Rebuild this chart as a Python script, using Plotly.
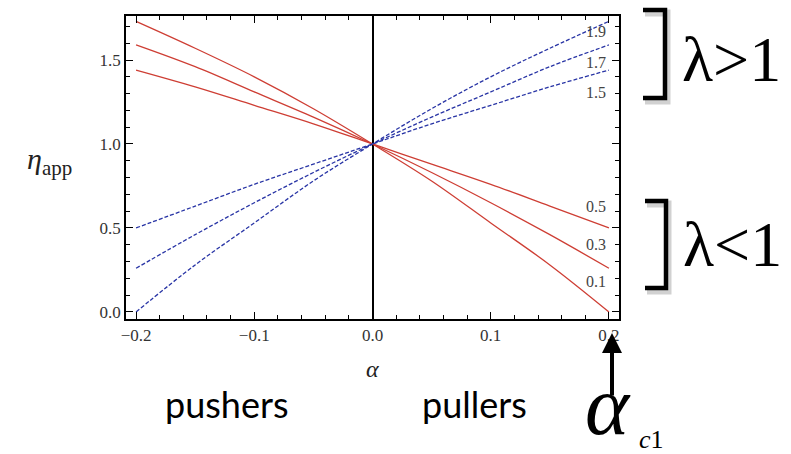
import plotly.graph_objects as go

# Apparent viscosity vs. swimmer stress parameter alpha
alpha = [-0.2, -0.15, -0.1, -0.05, 0.0, 0.05, 0.1, 0.15, 0.2]

# lambda < 1 (solid red)
eta_lam_01 = [1.73, 1.57, 1.40, 1.21, 1.00, 0.78, 0.53, 0.28, 0.00]
eta_lam_03 = [1.59, 1.46, 1.31, 1.16, 1.00, 0.83, 0.65, 0.46, 0.26]
eta_lam_05 = [1.44, 1.34, 1.23, 1.12, 1.00, 0.88, 0.76, 0.63, 0.50]

# lambda > 1 (dashed blue)
eta_lam_19 = [0.00, 0.28, 0.53, 0.78, 1.00, 1.21, 1.40, 1.57, 1.73]
eta_lam_17 = [0.26, 0.46, 0.65, 0.83, 1.00, 1.16, 1.31, 1.46, 1.59]
eta_lam_15 = [0.50, 0.63, 0.76, 0.88, 1.00, 1.12, 1.23, 1.34, 1.44]

curve_labels = ["1.9", "1.7", "1.5", "0.5", "0.3", "0.1"]
label_y = [1.667, 1.488, 1.304, 0.625, 0.399, 0.179]

x_ticks = [-0.2, -0.1, 0.0, 0.1, 0.2]
y_ticks = [0.0, 0.5, 1.0, 1.5]

RED = "rgb(206,62,52)"
BLUE = "rgb(40,52,165)"

W, H = 791, 454
L, R, T, B = 126, 619, 16, 319


def px(xp):
    return (xp - L) / (R - L)


def py(yp):
    return (B - yp) / (B - T)


fig = go.Figure()
for ys in (eta_lam_01, eta_lam_03, eta_lam_05):
    fig.add_trace(go.Scatter(x=alpha, y=ys, mode="lines",
                             line=dict(color=RED, width=1.3, shape="spline"),
                             showlegend=False, hoverinfo="skip"))
for ys in (eta_lam_19, eta_lam_17, eta_lam_15):
    fig.add_trace(go.Scatter(x=alpha, y=ys, mode="lines",
                             line=dict(color=BLUE, width=1.3, shape="spline",
                                       dash="4px,2px"),
                             showlegend=False, hoverinfo="skip"))

serif = "Liberation Serif, Times New Roman, serif"
ann = []
for t, yv in zip(curve_labels, label_y):
    ann.append(dict(x=0.199, y=yv, xref="x", yref="y", text=t, showarrow=False,
                    xanchor="right", yanchor="middle",
                    font=dict(family=serif, size=16, color="#444")))


def label(xp, yp, text, size, family=serif, color="black"):
    return dict(x=px(xp), y=py(yp), xref="paper", yref="paper", text=text,
                showarrow=False, xanchor="center", yanchor="middle",
                font=dict(family=family, size=size, color=color))


# axis titles
ann.append(label(49, 161, "<i>η</i><sub>app</sub>", 30, color="#222"))
ann.append(label(372, 369, "<i>α</i>", 24, color="#222"))

# region labels
ann.append(label(227, 404, "pushers", 36, family="Lato"))
ann.append(label(474, 404, "pullers", 36, family="Lato"))

# critical alpha marker
ann.append(dict(x=px(612), y=py(333), xref="paper", yref="paper", text="",
                showarrow=True, ax=0, ay=64, arrowhead=2, arrowsize=1,
                arrowwidth=4, arrowcolor="black"))
ann.append(label(608, 405, "<i>α</i>", 84))
ann.append(label(651, 439, "<i>c</i>1", 26))

# bracket labels
ann.append(label(731, 60, "λ>1", 64))
ann.append(label(732, 244, "λ<1", 64))

shapes = []
for (x0, x1, y0, y1) in [(643, 665, 10, 98), (645, 666, 201, 288)]:
    # soft drop shadow, then the bracket itself
    shapes.append(dict(type="path", xref="paper", yref="paper",
                       path=f"M {px(x0+2)},{py(y0+3)} L {px(x1+2)},{py(y0+3)} "
                            f"L {px(x1+2)},{py(y1+3)} L {px(x0+2)},{py(y1+3)}",
                       line=dict(color="rgba(0,0,0,0.18)", width=7)))
    shapes.append(dict(type="path", xref="paper", yref="paper",
                       path=f"M {px(x0)},{py(y0)} L {px(x1)},{py(y0)} "
                            f"L {px(x1)},{py(y1)} L {px(x0)},{py(y1)}",
                       line=dict(color="black", width=4.5)))

axis_common = dict(showgrid=False, showline=True, linecolor="black", linewidth=1.5,
                   mirror="ticks", ticks="inside", ticklen=7, tickwidth=1.2,
                   tickcolor="black",
                   tickfont=dict(family=serif, size=17, color="#333"))

fig.update_layout(
    width=W, height=H,
    margin=dict(l=L, r=W - R, t=T, b=H - B),
    plot_bgcolor="white", paper_bgcolor="white",
    xaxis=dict(range=[-0.2085, 0.2085], tickvals=x_ticks, tickformat=".1f",
               zeroline=True, zerolinecolor="black", zerolinewidth=1.5,
               minor=dict(dtick=0.02, ticks="inside", ticklen=4, tickwidth=1,
                          tickcolor="black"),
               **axis_common),
    yaxis=dict(range=[-0.042, 1.762], tickvals=y_ticks, tickformat=".1f",
               zeroline=False,
               minor=dict(dtick=0.1, ticks="inside", ticklen=4, tickwidth=1,
                          tickcolor="black"),
               **axis_common),
    annotations=ann, shapes=shapes,
)

fig.write_html("out.html")
